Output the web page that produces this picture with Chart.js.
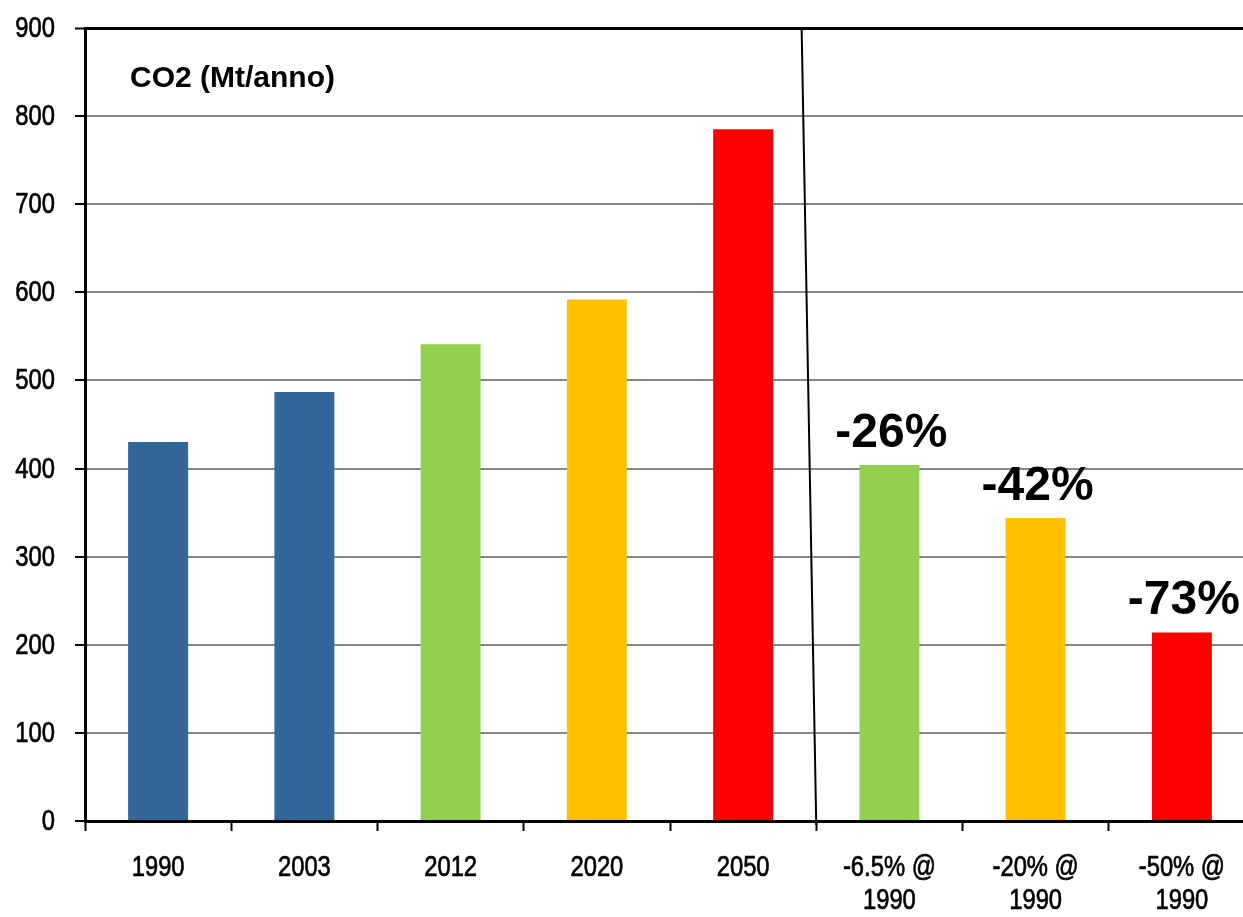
<!DOCTYPE html>
<html>
<head>
<meta charset="utf-8">
<script src="https://cdn.jsdelivr.net/npm/chart.js@4/dist/chart.umd.min.js"></script>
<style>
  html, body { margin: 0; padding: 0; overflow: hidden; background: #fff; }
</style>
</head>
<body>
<canvas id="myChart" width="1262" height="917"></canvas>
<script>
// data
const categorie = ['1990', '2003', '2012', '2020', '2050', ['-6.5% @', '1990'], ['-20% @', '1990'], ['-50% @', '1990']];
const emissioni = [430, 487, 541, 592, 785, 404, 344, 214];
const coloriBarre = ['#336699', '#336699', '#92D050', '#FFC000', '#FF0000', '#92D050', '#FFC000', '#FF0000'];
const riduzioni = ['', '', '', '', '', '-26%', '-42%', '-73%'];
const titolo = 'CO2 (Mt/anno)';

const famiglia = "'Liberation Sans', Arial, sans-serif";
const stretto = 0.82; // narrow look of the original labels

// write a squeezed, slightly heavier label
function scrivi(c, testo, px, py) {
    c.save();
    c.translate(px, py);
    c.scale(stretto, 1);
    c.fillText(testo, 0, 0);
    c.strokeText(testo, 0, 0);
    c.restore();
}

// title, slanted divider, percentage labels and narrow tick labels
const extra = {
    id: 'extra',
    afterDraw(chart) {
        const c = chart.ctx;
        const area = chart.chartArea;
        const x = chart.scales.x;
        const y = chart.scales.y;
        const meta = chart.getDatasetMeta(0);

        c.save();
        c.fillStyle = '#000';
        c.strokeStyle = '#000';
        c.lineWidth = 0.7;

        // tick labels
        c.font = '29px ' + famiglia;
        c.textAlign = 'right';
        c.textBaseline = 'middle';
        y.ticks.forEach((t, i) => {
            scrivi(c, String(t.value), y.right - 30, y.getPixelForTick(i) + 1);
        });
        c.textAlign = 'center';
        c.textBaseline = 'top';
        categorie.forEach((lab, i) => {
            const righe = Array.isArray(lab) ? lab : [lab];
            righe.forEach((r, k) => {
                scrivi(c, r, x.getPixelForTick(i), x.top + 32 + k * 33);
            });
        });

        c.font = "bold 30px " + famiglia;
        c.textAlign = 'left';
        c.textBaseline = 'alphabetic';
        c.fillText(titolo, area.left + 45, area.top + 59);

        // divider between history and targets
        const passo = x.getPixelForValue(5) - x.getPixelForValue(4);
        const xb = (x.getPixelForValue(4) + x.getPixelForValue(5)) / 2;
        c.lineWidth = 2;
        c.beginPath();
        c.moveTo(xb - passo * 0.1, area.top);
        c.lineTo(xb, area.bottom + 4);
        c.stroke();

        c.font = "bold 48px " + famiglia;
        c.textAlign = 'center';
        meta.data.forEach((bar, i) => {
            if (riduzioni[i]) c.fillText(riduzioni[i], bar.x + 2, bar.y - 18);
        });
        c.restore();
    }
};

var ctx = document.getElementById('myChart');

var myChart = new Chart(ctx, {
    type: 'bar',
    data: {
        labels: categorie,
        datasets: [{
            label: titolo,
            data: emissioni,
            backgroundColor: coloriBarre,
            borderWidth: 0,
            categoryPercentage: 1,
            barPercentage: 0.41
        }]
    },
    options: {
        responsive: false,
        animation: false,
        devicePixelRatio: 1,
        layout: { padding: { top: 28, right: 7, left: 0, bottom: 0 }, autoPadding: false },
        plugins: {
            legend: { display: false },
            title: { display: false },
            tooltip: { enabled: false }
        },
        scales: {
            x: {
                grid: {
                    offset: true,
                    drawOnChartArea: false,
                    drawTicks: true,
                    tickLength: 10,
                    tickColor: '#000',
                    tickWidth: 2
                },
                border: { color: '#000', width: 3 },
                ticks: {
                    color: 'rgba(0,0,0,0)',
                    font: { size: 8 },
                    maxRotation: 0,
                    autoSkip: false,
                    padding: 20
                },
                afterFit(scale) { scale.height = 96; }
            },
            y: {
                min: 0,
                max: 900,
                ticks: {
                    stepSize: 100,
                    color: 'rgba(0,0,0,0)',
                    font: { size: 8 },
                    padding: 20
                },
                grid: {
                    color: (c) => c.tick && c.tick.value === 900 ? '#000' : '#868686',
                    lineWidth: (c) => c.tick && c.tick.value === 900 ? 3 : 2,
                    tickLength: 10,
                    tickColor: '#000',
                    tickWidth: 2
                },
                border: { color: '#000', width: 3 },
                afterFit(scale) { scale.width = 85; }
            }
        }
    },
    plugins: [extra]
});
</script>
</body>
</html>
